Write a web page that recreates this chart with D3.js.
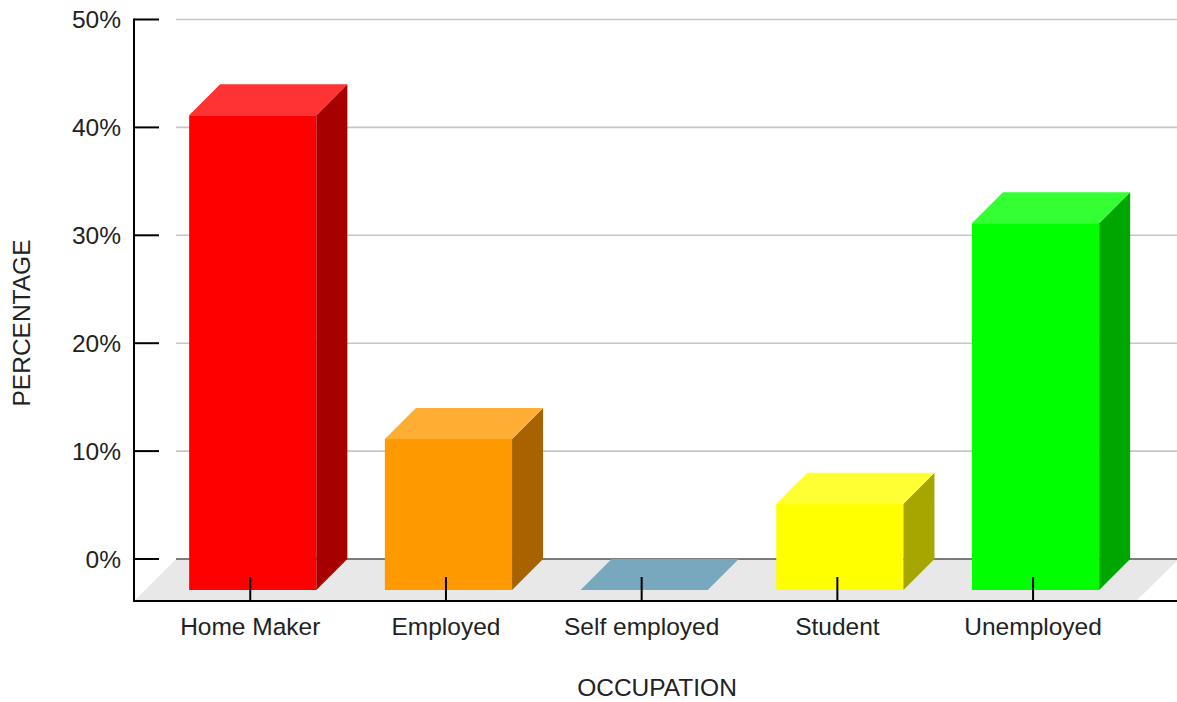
<!DOCTYPE html>
<html>
<head>
<meta charset="utf-8">
<script src="https://cdn.jsdelivr.net/npm/d3@7"></script>
<style>
html,body{margin:0;padding:0;background:#fff;}
svg{display:block;font-family:"Liberation Sans",Arial,sans-serif;}
</style>
</head>
<body>
<svg id="chart" width="1177" height="702"></svg>
<script>
const categories = ["Home Maker", "Employed", "Self employed", "Student", "Unemployed"];
const values = [44, 14, 0, 8, 34];
const baseColors = ["#ff0000", "#ff9900", "#5692ac", "#ffff00", "#00ff00"];
const yTicks = [0, 10, 20, 30, 40, 50];
const yTitle = "PERCENTAGE";
const xTitle = "OCCUPATION";

const svg = d3.select("#chart");
const W = 1177;
const D = 42;        // full floor depth (px, both x and y)
const zFront = 11;   // bar front face depth offset
const barDepth = D - zFront;

const x = d3.scaleBand().domain(categories).range([134, 1136])
  .paddingInner(0.35).paddingOuter(0.235).align(0.48);
const y = d3.scaleLinear().domain([0, 50]).range([601, 61.5]); // front plane
const bw = x.bandwidth();

// floor
const y0 = y(0);
svg.append("polygon")
  .attr("points", [[134, y0], [134 + D, y0 - D], [W + 2, y0 - D], [1136, y0]].map(p => p.join(",")).join(" "))
  .attr("fill", "#e8e8e8");

// gridlines (back plane)
svg.append("g").selectAll("line").data(yTicks.filter(t => t > 0)).join("line")
  .attr("x1", 134 + D).attr("x2", W)
  .attr("y1", d => y(d) - D).attr("y2", d => y(d) - D)
  .attr("stroke", "#c6c6c6").attr("stroke-width", 1.6);
svg.append("line")
  .attr("x1", 134 + D).attr("x2", W)
  .attr("y1", y(0) - D).attr("y2", y(0) - D)
  .attr("stroke", "#555").attr("stroke-width", 1.6);

// bars
const bars = svg.append("g").selectAll("g").data(categories).join("g");
bars.each(function(c, i) {
  const g = d3.select(this);
  const base = d3.rgb(baseColors[i]);
  const top = d3.interpolateRgb(base, "#ffffff")(0.2);
  const side = d3.rgb(base.r * 0.65, base.g * 0.65, base.b * 0.65);
  const x0 = x(c) + zFront;
  const yt = y(values[i]) - zFront;
  const yb = y(0) - zFront;
  const dd = barDepth;
  if (yb - yt > 0) {
    g.append("rect").attr("x", x0).attr("y", yt).attr("width", bw).attr("height", yb - yt)
      .attr("fill", base.toString());
    g.append("polygon")
      .attr("points", [[x0 + bw, yt], [x0 + bw + dd, yt - dd], [x0 + bw + dd, yb - dd], [x0 + bw, yb]].map(p => p.join(",")).join(" "))
      .attr("fill", side.toString());
  }
  g.append("polygon")
    .attr("points", [[x0, yt], [x0 + dd, yt - dd], [x0 + bw + dd, yt - dd], [x0 + bw, yt]].map(p => p.join(",")).join(" "))
    .attr("fill", top);
});

// axes lines
svg.append("line").attr("x1", 134).attr("x2", 134).attr("y1", y(50) - D - 1).attr("y2", y(0))
  .attr("stroke", "#000").attr("stroke-width", 2);
svg.append("line").attr("x1", 133).attr("x2", W).attr("y1", y(0)).attr("y2", y(0))
  .attr("stroke", "#000").attr("stroke-width", 2);

// y ticks
const yt = svg.append("g");
yt.selectAll("line").data(yTicks).join("line")
  .attr("x1", 134).attr("x2", 159)
  .attr("y1", d => y(d) - D).attr("y2", d => y(d) - D)
  .attr("stroke", "#000").attr("stroke-width", 2);
yt.selectAll("text").data(yTicks).join("text")
  .attr("x", 121).attr("y", d => y(d) - D)
  .attr("dy", "0.36em")
  .attr("text-anchor", "end")
  .attr("font-size", 24.5)
  .attr("fill", "#222")
  .text(d => d + "%");

// x ticks
const tickX = c => x(c) + bw / 2 + 8.5;
const xt = svg.append("g");
xt.selectAll("line").data(categories).join("line")
  .attr("x1", tickX).attr("x2", tickX)
  .attr("y1", y(0) - 24).attr("y2", y(0))
  .attr("stroke", "#000").attr("stroke-width", 2);
xt.selectAll("text").data(categories).join("text")
  .attr("x", c => tickX(c)).attr("y", 635)
  .attr("text-anchor", "middle")
  .attr("font-size", 24.5)
  .attr("fill", "#222")
  .text(c => c);

// titles
svg.append("text")
  .attr("transform", "translate(30,323) rotate(-90)")
  .attr("text-anchor", "middle")
  .attr("font-size", 24.5)
  .attr("fill", "#222")
  .text(yTitle);
svg.append("text")
  .attr("x", 657).attr("y", 696)
  .attr("text-anchor", "middle")
  .attr("font-size", 24.5)
  .attr("fill", "#222")
  .text(xTitle);
</script>
</body>
</html>
